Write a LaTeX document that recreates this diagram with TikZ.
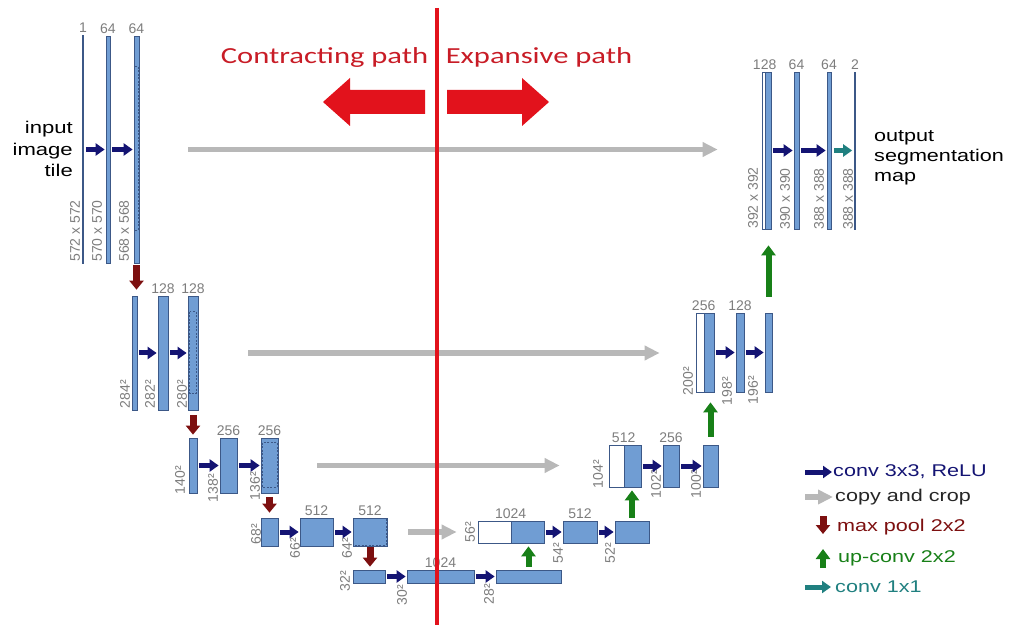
\documentclass[tikz,border=0pt]{standalone}
\usepackage{fontspec}
\usepackage{graphicx}
\setmainfont{Liberation Sans}
\newfontfamily\titlefont{Carlito}
\usetikzlibrary{calc,positioning,arrows.meta}

\definecolor{mapblue}{RGB}{112,157,211}
\definecolor{mapedge}{RGB}{60,88,135}
\definecolor{convblue}{RGB}{20,20,115}
\definecolor{copygray}{RGB}{184,184,184}
\definecolor{poolred}{RGB}{125,16,16}
\definecolor{upgreen}{RGB}{24,128,24}
\definecolor{convteal}{RGB}{32,128,128}
\definecolor{labgray}{RGB}{125,125,125}
\definecolor{pathred}{RGB}{226,18,28}
\definecolor{titlered}{RGB}{200,28,38}

\newcommand{\stretched}[2]{\scalebox{#1}[1]{#2}}

\tikzstyle{mapbase}=[draw=mapedge,line width=0.7pt,inner sep=0,fill=mapblue]
\tikzstyle{chlab}=[inner sep=0,text=labgray,font=\fontsize{14}{14}\selectfont]
\tikzstyle{sizelab}=[chlab,rotate=90]
\tikzstyle{conva}=[-{Triangle[length=9pt,width=12pt]},line width=5pt,convblue]
\tikzstyle{copycrop}=[-{Triangle[length=15pt,width=14pt]},line width=5.5pt,copygray]
\tikzstyle{maxpool}=[-{Triangle[length=9pt,width=14pt]},line width=7pt,poolred]
\tikzstyle{upconv}=[-{Triangle[length=10pt,width=14pt]},line width=6pt,upgreen]
\tikzset{
  fmap/.style 2 args={mapbase,minimum width=#1pt,minimum height=#2pt},
  cmap/.style 2 args={fmap={#1}{#2},fill=white},
  lmap/.style={mapbase,fill=mapedge,minimum width=1pt,minimum height=#1pt}
}

\begin{document}
\begin{tikzpicture}[
    x=1pt,y=-1pt,
    sameconv/.style={conva,shorten <=2pt,shorten >=1pt},
    cropline/.style={draw=mapedge,dash pattern=on 2pt off 1.5pt,line width=0.6pt},
    legtext/.style={inner sep=0,anchor=west,font=\fontsize{17}{17}\selectfont},
    sidetext/.style={inner sep=0,font=\fontsize{17}{21.5}\selectfont},
    pathtitle/.style={inner sep=0,text=titlered,font=\titlefont\fontsize{23}{23}\selectfont}
    ]
    \useasboundingbox (0,0) rectangle (1010,628);

    % contracting path
    \node [lmap=228] (c11) at (83,149.5) {};
    \node [fmap={4}{227}] (c12) at (108,149.5) {};
    \node [fmap={5}{227}] (c13) at (136.5,149.5) {};

    \node [fmap={5}{114}] (c21) at (134.5,353) {};
    \node [fmap={10}{114}] (c22) at (163,353) {};
    \node [fmap={10}{114}] (c23) at (193,353) {};

    \node [fmap={8}{55}] (c31) at (193,465.5) {};
    \node [fmap={17}{55}] (c32) at (228.5,465.5) {};
    \node [fmap={17}{55}] (c33) at (269.5,465.5) {};

    \node [fmap={17}{28}] (c41) at (269.5,532) {};
    \node [fmap={33}{28}] (c42) at (316.5,532) {};
    \node [fmap={34}{28}] (c43) at (370,532) {};

    \node [fmap={32}{13}] (c51) at (369,576.5) {};
    \node [fmap={67}{13}] (c52) at (440.5,576.5) {};
    \node [fmap={65}{13}] (c53) at (528.5,576.5) {};

    % expansive path
    \node [cmap={33}{22}] (e41w) at (494.5,532) {};
    \node [fmap={33}{22}] (e41) at (527.5,532) {};
    \node [fmap={34}{22}] (e42) at (580,532) {};
    \node [fmap={34}{22}] (e43) at (632,532) {};

    \node [cmap={15}{42}] (e31w) at (616.5,466) {};
    \node [fmap={17}{42}] (e31) at (632.5,466) {};
    \node [fmap={16}{42}] (e32) at (671,466) {};
    \node [fmap={15}{42}] (e33) at (710.5,466) {};

    \node [cmap={8}{79}] (e21w) at (700,352.5) {};
    \node [fmap={10}{79}] (e21) at (709,352.5) {};
    \node [fmap={8}{79}] (e22) at (740,352.5) {};
    \node [fmap={7}{79}] (e23) at (768.5,352.5) {};

    \node [cmap={3}{157}] (e11w) at (763.5,150.5) {};
    \node [fmap={6}{157}] (e11) at (768,150.5) {};
    \node [fmap={5}{157}] (e12) at (796.5,150.5) {};
    \node [fmap={4}{157}] (e13) at (829,150.5) {};
    \node [lmap=157] (e14) at (855,150.5) {};

    % cropped parts
    \draw [cropline] ($(c13.north west)+(1,31)$) rectangle ($(c13.south east)+(-1,-33)$);
    \draw [cropline] ($(c23.north west)+(2,16)$) rectangle ($(c23.south east)+(-2,-17)$);
    \draw [cropline] ($(c33.north west)+(2,5)$) rectangle ($(c33.south east)+(-1,-6)$);
    \draw [cropline] ($(c43.north west)+(1,1)$) rectangle ($(c43.south east)+(-1,-1)$);

    % channels
    \foreach \m/\t in {c11/1,c12/64,c13/64,c22/128,c23/128,c32/256,c33/256,
        c42/512,c43/512,c52/1024,e42/512,e32/256,e22/128,e12/64,e13/64,e14/2} {
      \node [chlab, above=2pt of \m] (n\m) {\t};
    }
    \node [chlab, above=2pt of e41.north west] (ne41) {1024};
    \node [chlab, above=2pt of e31.north west] (ne31) {512};
    \node [chlab, above=2pt of e21.north west] (ne21) {256};
    \node [chlab, above=2pt of e11.north west] (ne11) {128};

    % sizes
    \foreach \n/\x/\y/\t in {s11/75/231/572 x 572,s12/97/231/570 x 570,s13/124/231/568 x 568,
        s21/125/394/284²,s22/150/394/282²,s23/182/394/280²,
        s31/180/480/140²,s32/213/488/138²,s33/255/486/136²,
        s41/256/534/68²,s42/295/548/66²,s43/347/548/64²,
        s51/345/581/32²,s52/402/595/30²,s53/489/594/28²,
        r41/470/532/56²,r42/558/553/54²,r43/610/553/52²,
        r31/598/474/104²,r32/656/484/102²,r33/696/484/100²,
        r21/688/381/200²,r22/727/391/198²,r23/753/390/196²,
        r11/753/198/392 x 392,r12/785/199/390 x 390,r13/819/199/388 x 388,r14/848/199/388 x 388} {
      \node [sizelab] (\n) at (\x,\y) {\t};
    }

    % conv 3x3
    \foreach \a/\b in {c11/c12,c12/c13,c21/c22,c22/c23,c31/c32,c32/c33,c41/c42,c42/c43,
        c51/c52,c52/c53,e41/e42,e42/e43,e31/e32,e32/e33,e21/e22,e22/e23,e11/e12,e12/e13} {
      \draw [sameconv] (\a) -- (\b);
    }
    \draw [conva, convteal, shorten <=3pt, shorten >=2pt] (e13) -- (e14);

    % max pool
    \draw [maxpool, shorten <=2pt, shorten >=6pt] (c13.south) -- (c13.south |- c21.north);
    \draw [maxpool, shorten <=5pt, shorten >=3pt] (c23.south) -- (c23.south |- c31.north);
    \draw [maxpool, shorten <=4pt, shorten >=5pt] (c33.south) -- (c33.south |- c41.north);
    \draw [maxpool, shorten <=1pt, shorten >=3pt] (c43.south) -- (c43.south |- c51.north);

    % up-conv
    \draw [upconv, shorten <=3pt, shorten >=3pt] (c53.north) -- (c53.north |- e41.south);
    \draw [upconv, shorten <=3pt, shorten >=3pt] (e43.north) -- (e43.north |- e31.south);
    \draw [upconv, shorten <=8pt, shorten >=10pt] (e33.north) -- (e33.north |- e21.south);
    \draw [upconv, shorten <=16pt, shorten >=16pt] (e23.north) -- (e23.north |- e11.south);

    % copy and crop
    \draw [copycrop, shorten <=49pt, shorten >=44pt] (c13.east) -- (c13.east -| e11w.west);
    \draw [copycrop, shorten <=50pt, shorten >=36pt] (c23.east) -- (c23.east -| e21w.west);
    \draw [copycrop, shorten <=39pt, shorten >=49pt] (c33.east) -- (c33.east -| e31w.west);
    \draw [copycrop, shorten <=21pt, shorten >=21pt] (c43.east) -- (c43.east -| e41w.west);

    % input and output
    \node [sidetext, align=right, anchor=east] (inp) at (73,149)
        {\stretched{1.3}{input}\\\stretched{1.3}{image}\\\stretched{1.3}{tile}};
    \node [sidetext, font=\fontsize{17}{20}\selectfont, align=left, anchor=west] (outp) at (874,158)
        {\stretched{1.27}{output}\\\stretched{1.27}{segmentation}\\\stretched{1.27}{map}};

    % legend
    \coordinate (k1) at (805,472);
    \coordinate (k2) at (805,497);
    \coordinate (k3) at (823,516);
    \coordinate (k3e) at (823,534);
    \coordinate (k4) at (823,568);
    \coordinate (k4e) at (823,549);
    \coordinate (k5) at (805,587);
    \node [legtext, text=convblue] (t1) at (833,472) {\stretched{1.27}{conv 3x3, ReLU}};
    \node [legtext, text=black!85] (t2) at (835,497) {\stretched{1.27}{copy and crop}};
    \node [legtext, text=poolred] (t3) at (837,527) {\stretched{1.27}{max pool 2x2}};
    \node [legtext, text=upgreen] (t4) at (838,558) {\stretched{1.27}{up-conv 2x2}};
    \node [legtext, text=convteal] (t5) at (835,587) {\stretched{1.27}{conv 1x1}};
    \draw [conva, shorten >=1pt] (k1) -- (t1);
    \draw [copycrop, shorten >=2pt] (k2) -- (t2);
    \draw [maxpool] (k3) -- (k3e);
    \draw [upconv] (k4) -- (k4e);
    \draw [conva, convteal, shorten >=4pt] (k5) -- (t5);

    % the two paths
    \node [pathtitle] (contr) at (324.5,57) {\stretched{1.33}{Contracting path}};
    \node [pathtitle] (expan) at (539,57) {\stretched{1.33}{Expansive path}};
    \fill [pathred] (425,90) -- (350,90) -- (350,78) -- (323,102) -- (350,126)
        -- (350,114) -- (425,114) -- cycle;
    \fill [pathred] (447,90) -- (522,90) -- (522,78) -- (549,102) -- (522,126)
        -- (522,114) -- (447,114) -- cycle;
    \draw [pathred, line width=3.5pt] (437,8) -- (437,625);
\end{tikzpicture}
\end{document}
